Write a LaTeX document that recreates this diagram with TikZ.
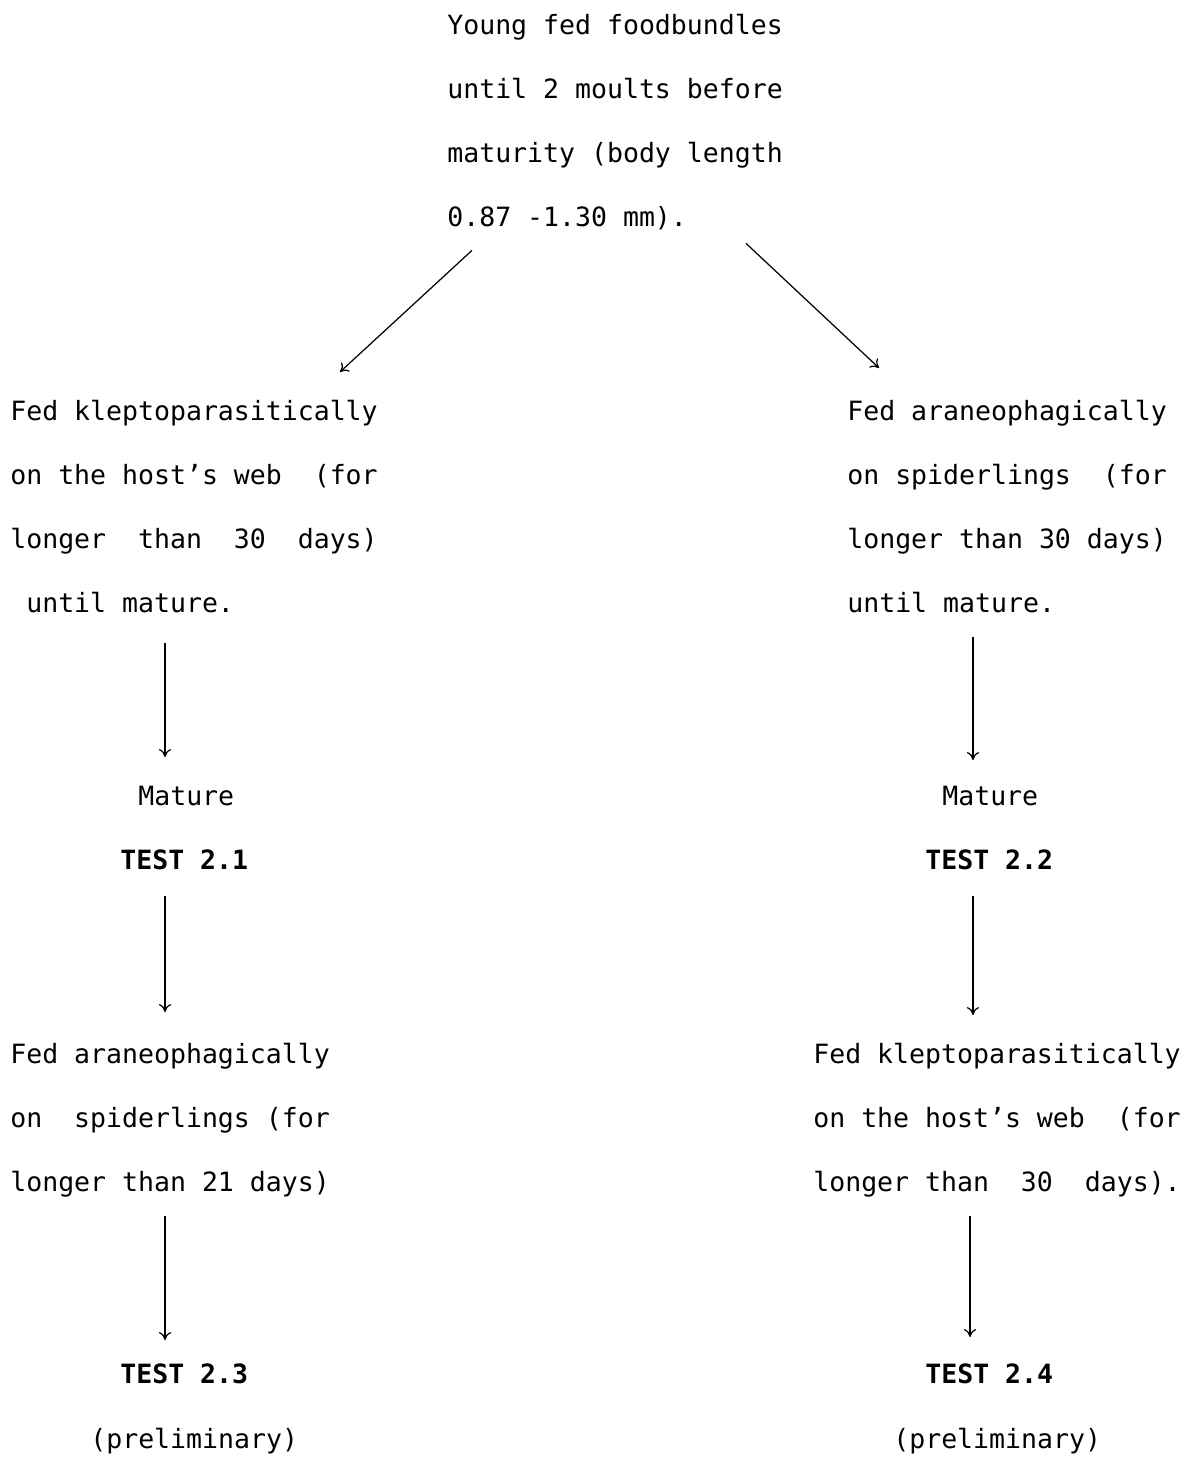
\documentclass[tikz,border=0pt]{standalone}
\usepackage{fontspec}
\setmainfont{DejaVu Sans Mono}
\usepackage{tikz}
\usetikzlibrary{arrows.meta}

\tikzset{
    txt/.style={anchor=north west, inner sep=0pt, align=left, font=\fontsize{15.1}{36.4}\selectfont},
    bold/.style={txt, font=\fontsize{15.1}{36.4}\selectfont\bfseries},
    arr/.style={-{To[length=4.5pt, width=7pt]}, line width=0.7pt}
}

\begin{document}
\begin{tikzpicture}[x=0.02cm, y=-0.02cm]
        \useasboundingbox (0, 0) rectangle (1193, 1457);
        % Top
        \node [txt] (top) at (447, 14) {Young fed foodbundles\\until 2 moults before\\maturity (body length\\0.87 -1.30 mm).};
        % Left branch
        \node [txt] (kleptoA) at (10, 400) {Fed kleptoparasitically\\on the host’s web~ (for\\longer~ than~ 30~ days)\\\phantom{x}until mature.};
        \node [txt] (matA) at (138, 786) {Mature};
        \node [bold] (testA) at (120, 849) {TEST 2.1};
        \node [txt] (araneoB) at (10, 1043) {Fed araneophagically\\on~ spiderlings (for\\longer than 21 days)};
        \node [bold] (testC) at (120, 1363) {TEST 2.3};
        \node [txt] (prelC) at (90, 1428) {(preliminary)};
        % Right branch
        \node [txt] (araneoA) at (847, 400) {Fed araneophagically\\on spiderlings~ (for\\longer than 30 days)\\until mature.};
        \node [txt] (matB) at (942, 786) {Mature};
        \node [bold] (testB) at (925, 849) {TEST 2.2};
        \node [txt] (kleptoB) at (813, 1043) {Fed kleptoparasitically\\on the host’s web~ (for\\longer than~ 30~ days).};
        \node [bold] (testD) at (925, 1363) {TEST 2.4};
        \node [txt] (prelD) at (893, 1428) {(preliminary)};
        % Arrows
        \draw [arr] ([shift={(25, 20)}]top.south west) -- ([shift={(330, -28)}]kleptoA.north west);
        \draw [arr] ([shift={(299, 13)}]top.south west) -- ([shift={(32, -32)}]araneoA.north west);
        \draw [arr] ([shift={(155, 30)}]kleptoA.south west) -- ([shift={(27, -29)}]matA.north west);
        \draw [arr] ([shift={(126, 24)}]araneoA.south west) -- ([shift={(31, -26)}]matB.north west);
        \draw [arr] ([shift={(45, 26)}]testA.south west) -- ([shift={(155, -31)}]araneoB.north west);
        \draw [arr] ([shift={(48, 26)}]testB.south west) -- ([shift={(160, -28)}]kleptoB.north west);
        \draw [arr] ([shift={(155, 18)}]araneoB.south west) -- ([shift={(45, -23)}]testC.north west);
        \draw [arr] ([shift={(157, 18)}]kleptoB.south west) -- ([shift={(45, -26)}]testD.north west);
    \end{tikzpicture}
\end{document}
